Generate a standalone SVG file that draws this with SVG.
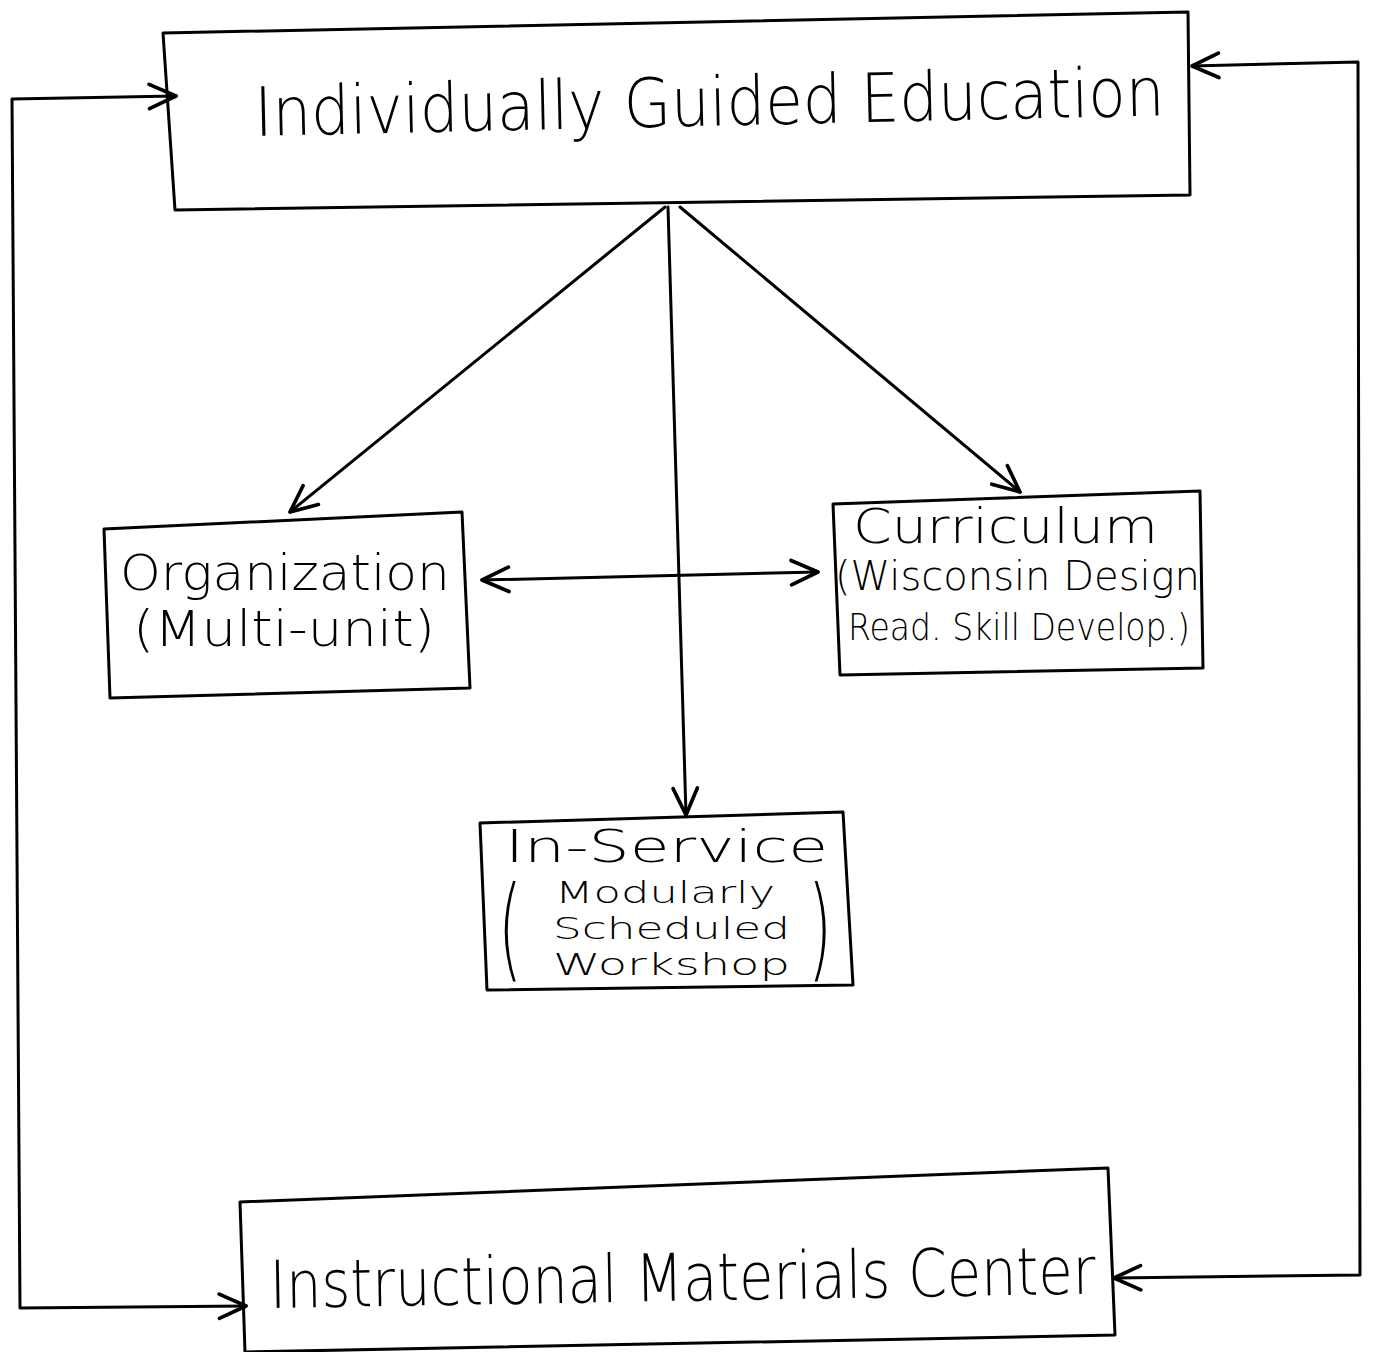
<svg xmlns="http://www.w3.org/2000/svg" width="1384" height="1352" viewBox="0 0 1384 1352">
  <defs>
    <marker id="head" markerUnits="userSpaceOnUse" markerWidth="34" markerHeight="34" refX="24" refY="12" orient="auto-start-reverse" viewBox="0 0 28 24">
      <path d="M2,2 L24,12 L2,22" fill="none" stroke="#000" stroke-width="3" stroke-linecap="round" stroke-linejoin="round"/>
    </marker>
    <style>
      .box { fill: none; stroke: #000; stroke-width: 3; stroke-linejoin: round; }
      .link { fill: none; stroke: #000; stroke-width: 3; stroke-linecap: round; stroke-linejoin: round; }
      .lbl { font-family: "DejaVu Sans", "Liberation Sans", sans-serif; font-weight: 300; fill: #000; }
    </style>
  </defs>
  <rect width="1384" height="1352" fill="#fff"/>

  <!-- connectors -->
  <g id="connectors">
    <path class="link" d="M665,207 L290,512" marker-end="url(#head)"/>
    <path class="link" d="M680,207 L1020,492" marker-end="url(#head)"/>
    <path class="link" d="M668,207 L686,815" marker-end="url(#head)"/>
    <path class="link" d="M482,580 L818,572" marker-start="url(#head)" marker-end="url(#head)"/>
    <path class="link" d="M176,96 L12,99 L20,1308 L246,1306" marker-start="url(#head)" marker-end="url(#head)"/>
    <path class="link" d="M1192,66 L1358,62 L1360,1275 L1114,1278" marker-start="url(#head)" marker-end="url(#head)"/>
  </g>

  <!-- top node -->
  <g id="ige">
    <polygon class="box" points="163,33 1188,12 1190,195 175,210"/>
    <text class="lbl" x="255" y="136" font-size="68" textLength="910" lengthAdjust="spacingAndGlyphs" transform="rotate(-1.3 255 136)">Individually Guided Education</text>
  </g>

  <!-- left node -->
  <g id="organization">
    <polygon class="box" points="104,529 462,512 470,688 110,698"/>
    <text class="lbl" x="120" y="590" font-size="50" textLength="330" lengthAdjust="spacingAndGlyphs">Organization</text>
    <text class="lbl" x="133" y="646" font-size="50" textLength="302" lengthAdjust="spacingAndGlyphs">(Multi-unit)</text>
  </g>

  <!-- right node -->
  <g id="curriculum">
    <polygon class="box" points="833,504 1200,491 1203,668 840,675"/>
    <text class="lbl" x="853" y="543" font-size="48" textLength="305" lengthAdjust="spacingAndGlyphs">Curriculum</text>
    <text class="lbl" x="835" y="590" font-size="40" textLength="365" lengthAdjust="spacingAndGlyphs">(Wisconsin Design</text>
    <text class="lbl" x="848" y="640" font-size="38" textLength="342" lengthAdjust="spacingAndGlyphs">Read. Skill Develop.)</text>
  </g>

  <!-- middle node -->
  <g id="inservice">
    <polygon class="box" points="480,823 843,812 853,985 487,990"/>
    <text class="lbl" x="505" y="862" font-size="44" textLength="323" lengthAdjust="spacingAndGlyphs">In-Service</text>
    <text class="lbl" x="498" y="966" font-size="112" transform="translate(498 0) scale(0.55 1) translate(-498 0)">(</text>
    <text class="lbl" x="808" y="966" font-size="112" transform="translate(808 0) scale(0.55 1) translate(-808 0)">)</text>
    <text class="lbl" x="555" y="903" font-size="30" textLength="220" lengthAdjust="spacingAndGlyphs">Modularly</text>
    <text class="lbl" x="553" y="939" font-size="30" textLength="237" lengthAdjust="spacingAndGlyphs">Scheduled</text>
    <text class="lbl" x="553" y="975" font-size="30" textLength="237" lengthAdjust="spacingAndGlyphs">Workshop</text>
  </g>

  <!-- bottom node -->
  <g id="imc">
    <polygon class="box" points="240,1202 1108,1168 1115,1335 245,1352"/>
    <text class="lbl" x="270" y="1308" font-size="66" textLength="826" lengthAdjust="spacingAndGlyphs" transform="rotate(-1 270 1308)">Instructional Materials Center</text>
  </g>
</svg>
